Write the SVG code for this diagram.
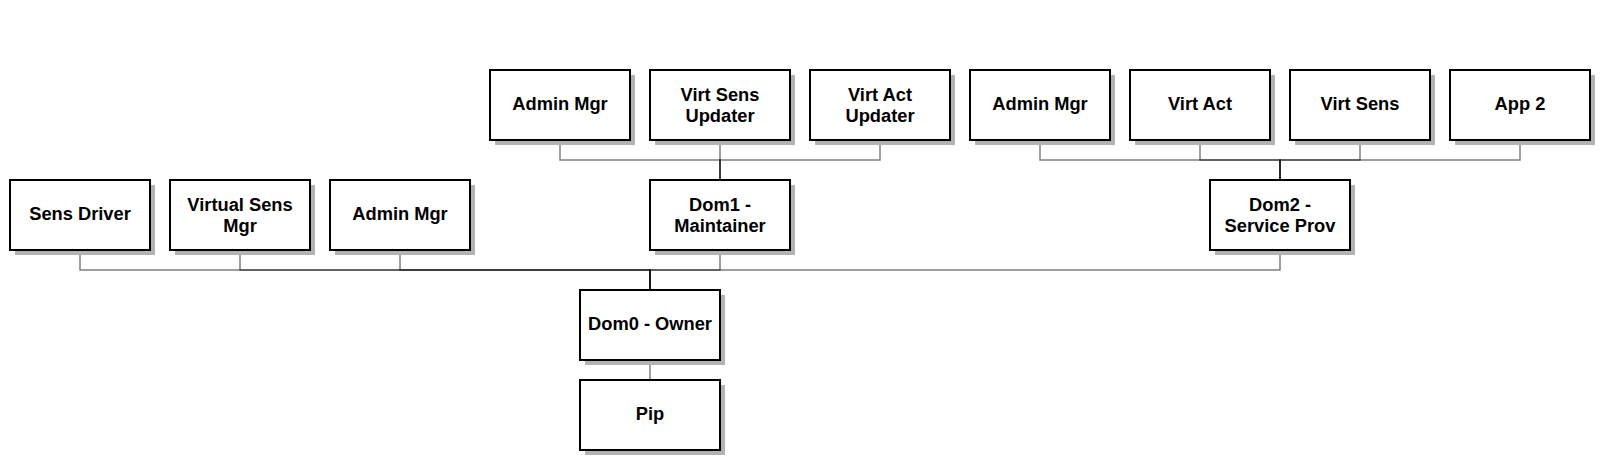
<svg xmlns="http://www.w3.org/2000/svg" width="1610" height="470" viewBox="0 0 1610 470">
<style>
.box{fill:#fff;stroke:#000;stroke-width:2}
.sh{fill:#b3b3b3}
.t{font-family:"Liberation Sans",Arial,sans-serif;font-weight:bold;font-size:18.3px;fill:#000;text-anchor:middle}
.e{fill:none;stroke:#000;stroke-opacity:0.5;stroke-width:1.5}
</style>
<rect width="1610" height="470" fill="#fff"/>
<g id="connectors">
<path class="e" d="M80 250V270H650V290"/>
<path class="e" d="M240 250V270H650V290"/>
<path class="e" d="M400 250V270H650V290"/>
<path class="e" d="M720 250V270H650V290"/>
<path class="e" d="M1280 250V270H650V290"/>
<path class="e" d="M650 360V380"/>
<path class="e" d="M560 140V160H720V180"/>
<path class="e" d="M720 140V180"/>
<path class="e" d="M880 140V160H720V180"/>
<path class="e" d="M1040 140V160H1280V180"/>
<path class="e" d="M1200 140V160H1280V180"/>
<path class="e" d="M1360 140V160H1280V180"/>
<path class="e" d="M1520 140V160H1280V180"/>
</g>
<g id="sens-driver"><rect class="sh" x="15" y="185" width="140" height="70"/><rect class="box" x="10" y="180" width="140" height="70"/><text class="t" x="80" y="219.5">Sens Driver</text></g>
<g id="virtual-sens-mgr"><rect class="sh" x="175" y="185" width="140" height="70"/><rect class="box" x="170" y="180" width="140" height="70"/><text class="t" x="240" y="210.5">Virtual Sens</text><text class="t" x="240" y="231.5">Mgr</text></g>
<g id="admin-mgr-0"><rect class="sh" x="335" y="185" width="140" height="70"/><rect class="box" x="330" y="180" width="140" height="70"/><text class="t" x="400" y="219.5">Admin Mgr</text></g>
<g id="dom1"><rect class="sh" x="655" y="185" width="140" height="70"/><rect class="box" x="650" y="180" width="140" height="70"/><text class="t" x="720" y="210.5">Dom1 -</text><text class="t" x="720" y="231.5">Maintainer</text></g>
<g id="dom2"><rect class="sh" x="1215" y="185" width="140" height="70"/><rect class="box" x="1210" y="180" width="140" height="70"/><text class="t" x="1280" y="210.5">Dom2 -</text><text class="t" x="1280" y="231.5">Service Prov</text></g>
<g id="dom0"><rect class="sh" x="585" y="295" width="140" height="70"/><rect class="box" x="580" y="290" width="140" height="70"/><text class="t" x="650" y="329.5">Dom0 - Owner</text></g>
<g id="pip"><rect class="sh" x="585" y="385" width="140" height="70"/><rect class="box" x="580" y="380" width="140" height="70"/><text class="t" x="650" y="419.5">Pip</text></g>
<g id="admin-mgr-1"><rect class="sh" x="495" y="75" width="140" height="70"/><rect class="box" x="490" y="70" width="140" height="70"/><text class="t" x="560" y="109.5">Admin Mgr</text></g>
<g id="virt-sens-updater"><rect class="sh" x="655" y="75" width="140" height="70"/><rect class="box" x="650" y="70" width="140" height="70"/><text class="t" x="720" y="100.5">Virt Sens</text><text class="t" x="720" y="121.5">Updater</text></g>
<g id="virt-act-updater"><rect class="sh" x="815" y="75" width="140" height="70"/><rect class="box" x="810" y="70" width="140" height="70"/><text class="t" x="880" y="100.5">Virt Act</text><text class="t" x="880" y="121.5">Updater</text></g>
<g id="admin-mgr-2"><rect class="sh" x="975" y="75" width="140" height="70"/><rect class="box" x="970" y="70" width="140" height="70"/><text class="t" x="1040" y="109.5">Admin Mgr</text></g>
<g id="virt-act"><rect class="sh" x="1135" y="75" width="140" height="70"/><rect class="box" x="1130" y="70" width="140" height="70"/><text class="t" x="1200" y="109.5">Virt Act</text></g>
<g id="virt-sens"><rect class="sh" x="1295" y="75" width="140" height="70"/><rect class="box" x="1290" y="70" width="140" height="70"/><text class="t" x="1360" y="109.5">Virt Sens</text></g>
<g id="app2"><rect class="sh" x="1455" y="75" width="140" height="70"/><rect class="box" x="1450" y="70" width="140" height="70"/><text class="t" x="1520" y="109.5">App 2</text></g>
</svg>
